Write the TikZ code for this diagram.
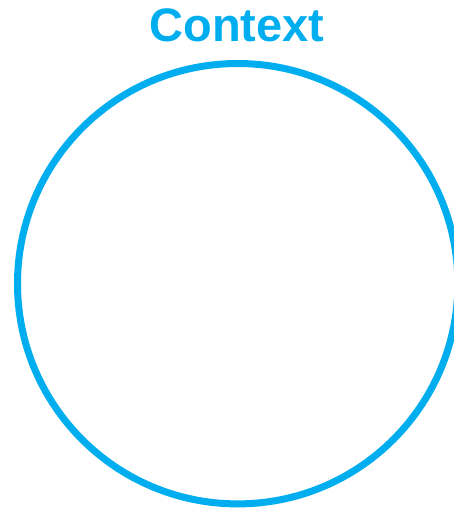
\documentclass[tikz,border=0pt]{standalone}
\usepackage{fontspec}
\setmainfont{Liberation Sans}
\usetikzlibrary{calc, positioning}
\definecolor{ctxblue}{RGB}{0,174,239}

\begin{document}
\begin{tikzpicture}[x=1pt, y=-1pt]
\pgfmathsetmacro{\rad}{220.2}

\useasboundingbox (0,0) rectangle (454,509);

\coordinate (C) at (237.7,283.7);
\coordinate (T) at (237,25);

\draw[ctxblue, line width=7pt] (C) circle (\rad pt);

\node[text=ctxblue, font=\bfseries\fontsize{47}{52}\selectfont, inner sep=0pt] (title) at (T) {Context};
\end{tikzpicture}
\end{document}
